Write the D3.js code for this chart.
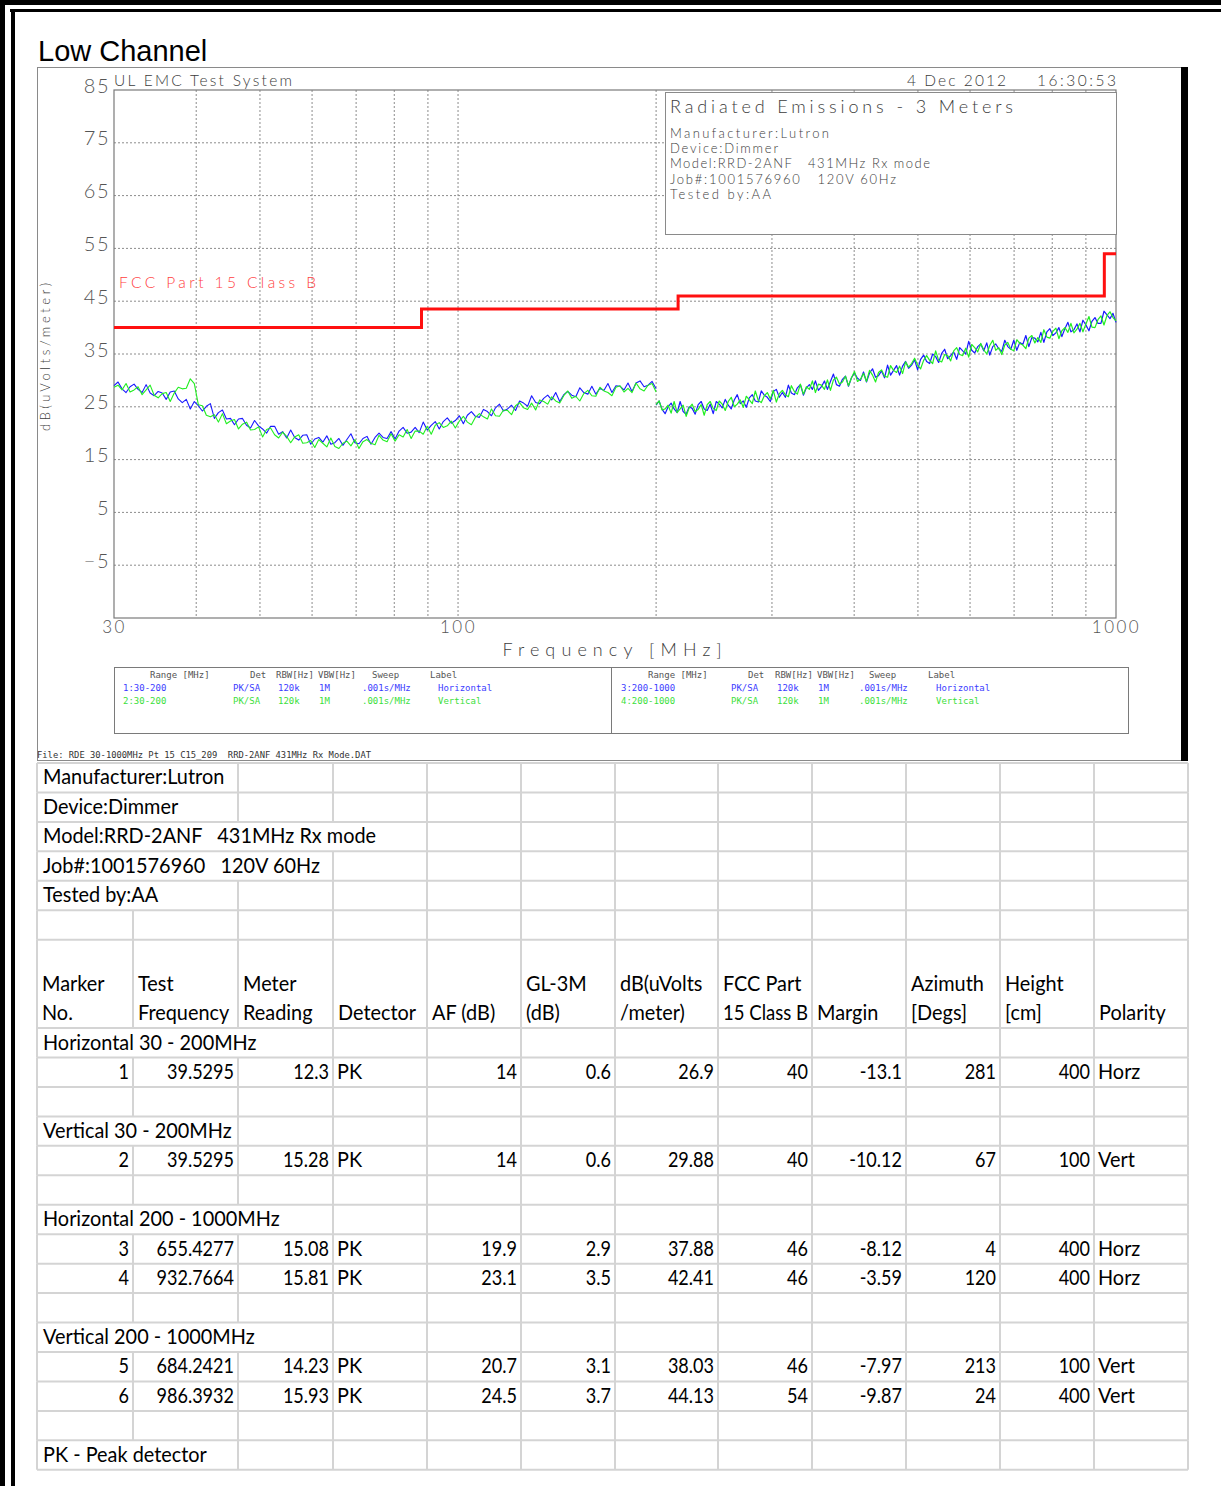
<!DOCTYPE html>
<html><head><meta charset="utf-8">
<script src="https://cdn.jsdelivr.net/npm/d3@7"></script>
<style>
html,body{margin:0;padding:0;background:#fff;}
svg{display:block;}
</style></head><body>
<svg id="page" width="1221" height="1486"></svg>
<script>
// ---- Sweep data (dBuV/m), points evenly spaced on the log-frequency axis ----
const sweepLow = [30, 200];
const sweepHigh = [200, 1000];
const horizLow = [29.0,29.7,28.4,27.7,28.8,29.3,28.3,27.7,29.2,27.6,27.1,27.9,27.6,26.4,27.8,28.0,26.5,25.8,26.4,24.6,
26.0,25.2,24.2,25.1,25.6,22.8,23.9,24.4,22.7,22.8,21.6,22.7,22.8,21.5,21.0,22.4,21.4,20.8,20.0,21.3,
21.3,19.8,20.3,19.1,20.6,19.2,18.7,19.6,19.7,17.9,18.9,19.2,18.3,19.5,17.9,18.2,19.0,17.7,18.8,19.9,
18.2,18.0,19.0,19.4,17.9,19.2,20.0,19.2,19.0,20.3,18.9,20.4,21.1,20.0,20.2,21.1,20.1,22.1,20.6,21.5,
22.2,20.8,22.2,22.9,21.9,22.4,23.3,21.8,23.4,24.1,23.2,23.0,24.5,24.1,23.3,24.8,25.5,24.2,24.6,25.3,
24.3,26.1,25.7,25.1,27.1,25.8,25.6,26.6,27.2,26.3,27.7,26.0,27.3,27.9,27.2,26.9,28.6,27.7,27.4,28.9,
27.4,28.5,28.1,29.4,27.7,29.0,28.9,28.2,29.5,27.9,29.5,29.9,28.8,29.1,29.8,28.4];
const vertLow = [28.7,29.1,28.2,29.4,27.8,28.2,28.8,27.3,28.2,29.1,27.2,26.7,27.5,27.7,26.0,27.6,28.7,28.4,28.5,30.3,
29.4,25.4,25.2,23.4,23.1,23.5,22.1,23.7,21.8,22.3,22.6,20.8,21.7,22.1,20.6,20.7,21.2,19.3,20.7,21.0,
19.7,19.1,20.2,19.4,18.2,19.3,19.7,18.1,18.2,18.6,17.3,18.8,18.1,17.4,19.1,17.5,17.1,18.1,18.5,17.6,
18.8,17.1,18.4,18.8,18.1,17.8,19.6,18.7,18.4,19.9,18.5,19.7,19.3,20.7,19.0,20.4,20.4,19.8,21.3,19.8,
21.5,22.0,21.1,21.4,22.3,21.0,22.3,23.2,22.1,21.6,23.0,23.7,23.1,22.7,24.6,23.3,23.2,24.4,24.3,23.5,
25.2,25.8,24.8,24.5,25.7,24.4,26.3,26.0,25.5,26.9,26.1,25.7,27.1,28.0,26.6,27.0,26.1,27.5,28.1,27.1,
27.0,28.7,28.0,27.7,27.1,28.7,29.0,27.8,28.5,27.7,29.5,28.4,28.0,29.1,29.4,27.8];
const horizHigh = [25.3,26.1,24.5,23.7,25.0,25.7,24.6,23.9,26.0,24.1,23.6,25.0,24.7,23.6,25.4,26.0,24.6,24.3,25.5,23.7,
26.0,25.5,24.8,26.4,25.3,24.6,26.3,27.3,25.6,26.1,24.9,26.7,27.3,26.1,25.9,28.0,27.2,26.8,26.0,27.9,
28.3,26.8,27.7,26.8,29.1,27.6,27.3,28.6,29.2,27.2,28.6,29.2,28.3,29.9,28.1,28.8,29.9,28.3,29.8,31.2,
29.2,28.9,30.2,30.8,28.9,30.5,31.4,30.4,30.0,31.6,29.7,31.4,32.2,30.6,30.9,31.8,30.5,32.9,31.0,31.9,
32.8,31.0,32.7,33.6,32.3,32.9,33.9,32.0,34.0,34.8,33.6,33.2,35.0,34.5,33.4,35.1,35.9,34.1,34.7,35.4,
34.0,36.2,35.6,35.0,37.4,35.7,35.2,36.4,36.9,35.6,37.1,34.8,36.4,36.9,36.0,35.5,37.6,36.4,35.9,37.6,
35.7,37.2,36.8,38.5,36.4,38.1,38.0,37.3,39.1,37.2,39.2,39.8,38.5,39.0,40.0,38.3,39.8,41.0,39.2,39.6,
40.7,39.2,41.4,40.5,39.4,41.2,41.9,40.8,40.8,43.1,42.4,41.7,42.7,41.0];
const vertHigh = [25.4,26.1,24.4,24.6,25.3,23.8,26.0,23.9,24.6,25.3,23.2,24.8,25.5,24.1,24.5,25.4,23.4,25.4,26.0,24.7,
24.3,26.1,25.5,24.3,26.0,26.8,25.0,25.5,26.3,24.9,27.0,26.3,25.6,28.0,26.2,25.8,27.1,27.7,26.5,28.1,
25.9,27.5,28.1,27.3,26.9,29.0,27.9,27.4,29.3,27.4,28.8,28.3,29.9,27.7,29.3,29.1,28.3,30.1,28.1,30.1,
30.6,29.3,29.7,30.8,29.0,30.5,31.7,29.8,30.2,31.3,29.8,31.9,31.0,29.7,31.5,32.0,30.8,30.6,32.8,31.9,
31.5,32.7,31.3,33.5,32.5,33.2,34.2,32.9,32.2,33.8,34.7,33.8,33.2,35.6,33.8,33.5,34.9,34.7,33.7,35.6,
36.2,34.9,34.7,36.1,34.4,36.8,36.2,35.4,37.0,35.8,35.0,36.6,37.6,35.7,36.2,34.9,36.7,37.2,35.9,35.6,
37.7,37.0,36.7,36.0,38.0,38.5,37.1,38.1,37.2,39.6,38.2,38.0,39.3,39.9,37.9,39.4,40.0,39.1,40.8,39.0,
39.7,40.8,39.2,40.7,42.1,40.1,40.0,41.5,42.2,40.5,42.3,43.0,41.9,41.3];

// FCC Part 15 Class B limit (3 m)
const limitFreqs = [30, 88, 216, 960, 1000];
const limitLevels = [40, 43.5, 46, 54, 54];

const yTicks = [85, 75, 65, 55, 45, 35, 25, 15, 5, -5];
const xTickValues = [30, 100, 1000];
const gridFreqs = [40, 50, 60, 70, 80, 90, 100, 200, 300, 400, 500, 600, 700, 800, 900];

const headerLeft = "UL EMC Test System";
const headerDate = "4 Dec 2012";
const headerTime = "16:30:53";
const infoTitle = "Radiated Emissions - 3 Meters";
const infoLines = ["Manufacturer:Lutron", "Device:Dimmer", "Model:RRD-2ANF   431MHz Rx mode", "Job#:1001576960   120V 60Hz", "Tested by:AA"];

const legendCols = ["Range [MHz]", "Det", "RBW[Hz]", "VBW[Hz]", "Sweep", "Label"];
const legendRowsLeft = [["1:30-200", "PK/SA", "120k", "1M", ".001s/MHz", "Horizontal"], ["2:30-200", "PK/SA", "120k", "1M", ".001s/MHz", "Vertical"]];
const legendRowsRight = [["3:200-1000", "PK/SA", "120k", "1M", ".001s/MHz", "Horizontal"], ["4:200-1000", "PK/SA", "120k", "1M", ".001s/MHz", "Vertical"]];
const fileName = "File: RDE 30-1000MHz Pt 15 C15_209  RRD-2ANF 431MHz Rx Mode.DAT";

// ---- Marker table ----
const tableHeader = [["Marker", "No."], ["Test", "Frequency"], ["Meter", "Reading"], ["", "Detector"], ["", "AF (dB)"], ["GL-3M", "(dB)"], ["dB(uVolts", "/meter)"], ["FCC Part", "15 Class B"], ["", "Margin"], ["Azimuth", "[Degs]"], ["Height", "[cm]"], ["", "Polarity"]];
const markerNo = [1, 2, 3, 4, 5, 6];
const testFreq = ["39.5295", "39.5295", "655.4277", "932.7664", "684.2421", "986.3932"];
const meterReading = [12.3, 15.28, 15.08, 15.81, 14.23, 15.93];
const detector = ["PK", "PK", "PK", "PK", "PK", "PK"];
const afDb = [14, 14, 19.9, 23.1, 20.7, 24.5];
const gl3m = [0.6, 0.6, 2.9, 3.5, 3.1, 3.7];
const fieldStrength = [26.9, 29.88, 37.88, 42.41, 38.03, 44.13];
const fccLimit = [40, 40, 46, 46, 46, 54];
const marginDb = [-13.1, -10.12, -8.12, -3.59, -7.97, -9.87];
const azimuth = [281, 67, 4, 120, 213, 24];
const heightCm = [400, 100, 400, 400, 100, 400];
const polarity = ["Horz", "Vert", "Horz", "Horz", "Vert", "Vert"];
const groupTitles = ["Horizontal 30 - 200MHz", "Vertical 30 - 200MHz", "Horizontal 200 - 1000MHz", "Vertical 200 - 1000MHz"];
const noteText = "PK - Peak detector";

// ================= drawing =================
const svg = d3.select("#page");
const plotFont = "Lato, 'DejaVu Sans', sans-serif";
const plotWeight = 300;
const textGray = "#3c3c3c";

function plotText(sel, xp, yp, str, size, len, color, anchor) {
  const t = sel.append("text").attr("x", xp).attr("y", yp).text(str)
    .attr("font-family", plotFont).attr("font-weight", plotWeight).attr("font-size", size)
    .attr("fill", color || textGray).attr("text-anchor", anchor || "start").style("white-space", "pre");
  if (len) t.attr("textLength", len).attr("lengthAdjust", "spacing");
  return t;
}

// page frame
svg.append("rect").attr("x", 0).attr("y", 0).attr("width", 1221).attr("height", 5).attr("fill", "#000");
svg.append("rect").attr("x", 0).attr("y", 0).attr("width", 5).attr("height", 1486).attr("fill", "#000");
svg.append("rect").attr("x", 10).attr("y", 9).attr("width", 1211).attr("height", 3).attr("fill", "#000");
svg.append("rect").attr("x", 11).attr("y", 9).attr("width", 4).attr("height", 1477).attr("fill", "#000");

svg.append("text").attr("x", 38).attr("y", 61).text("Low Channel")
  .attr("font-family", "'Liberation Sans', Arial, sans-serif").attr("font-size", 29).attr("fill", "#000");

// chart panel
svg.append("rect").attr("x", 37.5).attr("y", 67.5).attr("width", 1144).attr("height", 693)
  .attr("fill", "#fff").attr("stroke", "#8a8a8a").attr("stroke-width", 1);
svg.append("rect").attr("x", 1181).attr("y", 67).attr("width", 7).attr("height", 694).attr("fill", "#000");

const x = d3.scaleLog().domain([30, 1000]).range([114, 1116]);
const y = d3.scaleLinear().domain([-15, 85]).range([618, 90]);

const plot = svg.append("g");

// grid
plot.selectAll("line.vg").data(gridFreqs).join("line")
  .attr("x1", d => x(d)).attr("x2", d => x(d)).attr("y1", y(85)).attr("y2", y(-15))
  .attr("stroke", "#8c8c8c").attr("stroke-width", 1).attr("stroke-dasharray", "2,2");
plot.selectAll("line.hg").data(yTicks.filter(d => d !== 85)).join("line")
  .attr("x1", x(30)).attr("x2", x(1000)).attr("y1", d => y(d)).attr("y2", d => y(d))
  .attr("stroke", "#8c8c8c").attr("stroke-width", 1).attr("stroke-dasharray", "2,2");

// frame
plot.append("rect").attr("x", x(30)).attr("y", y(85)).attr("width", x(1000) - x(30)).attr("height", y(-15) - y(85))
  .attr("fill", "none").attr("stroke", "#7a7a7a").attr("stroke-width", 1.2);

// info box
plot.append("rect").attr("x", 665.5).attr("y", 92.5).attr("width", 451).attr("height", 142)
  .attr("fill", "#fff").attr("stroke", "#8a8a8a").attr("stroke-width", 1);
plotText(plot, 670, 113, infoTitle, 18, 343);
const infoWidths = [159, 108, 260, 226, 101];
infoLines.forEach((t, i) => plotText(plot, 670, 138 + i * 15.2, t, 13, infoWidths[i]));

// header texts
plotText(plot, 114, 86, headerLeft, 15.5, 178);
plotText(plot, 907, 86, headerDate, 15.5, 99);
plotText(plot, 1037, 86, headerTime, 15.5, 79);

// y axis
const yAxis = d3.axisLeft(y).tickValues(yTicks).tickSize(0).tickPadding(4).tickFormat(d => d < 0 ? "\u2212" + Math.abs(d) : String(d));
const gy = plot.append("g").attr("transform", `translate(${x(30)},0)`).call(yAxis);
gy.select(".domain").remove();
gy.selectAll("text").attr("font-family", plotFont).attr("font-weight", plotWeight).attr("font-size", 20)
  .attr("fill", "#555").attr("dy", "0.1em").attr("letter-spacing", "1.5px");

// x axis
const xAxis = d3.axisBottom(x).tickValues(xTickValues).tickSize(0).tickPadding(3).tickFormat(d => String(d));
const gx = plot.append("g").attr("transform", `translate(0,${y(-15)})`).call(xAxis);
gx.select(".domain").remove();
gx.selectAll("text").attr("font-family", plotFont).attr("font-weight", plotWeight).attr("font-size", 17)
  .attr("fill", "#555").attr("letter-spacing", "2.5px");

plotText(plot, 612, 656, "Frequency [MHz]", 18, 219, textGray, "middle");
plot.append("text").attr("transform", "translate(50,357) rotate(-90)").attr("text-anchor", "middle")
  .text("dB(uVolts/meter)").attr("font-family", plotFont).attr("font-weight", plotWeight)
  .attr("font-size", 13).attr("fill", textGray)
  .attr("textLength", 148).attr("lengthAdjust", "spacing");

// traces
function sweepPoints(range, values) {
  const lx = d3.scaleLinear().domain([0, values.length - 1]).range([Math.log10(range[0]), Math.log10(range[1])]);
  return values.map((v, i) => [Math.pow(10, lx(i)), v]);
}
const line = d3.line().x(d => x(d[0])).y(d => y(d[1]));
const traces = [
  { range: sweepLow, values: horizLow, color: "#1a1aff", w: 1.1 },
  { range: sweepLow, values: vertLow, color: "#22ee22", w: 1.1 },
  { range: sweepHigh, values: horizHigh, color: "#1a1aff", w: 1.2 },
  { range: sweepHigh, values: vertHigh, color: "#22ee22", w: 1.2 }
];
traces.forEach(t => {
  plot.append("path").attr("d", line(sweepPoints(t.range, t.values)))
    .attr("fill", "none").attr("stroke", t.color).attr("stroke-width", t.w).attr("stroke-linejoin", "round");
});

// limit line
const limitLine = d3.line().x(d => x(d[0])).y(d => y(d[1])).curve(d3.curveStepAfter);
plot.append("path").attr("d", limitLine(limitFreqs.map((f, i) => [f, limitLevels[i]])))
  .attr("fill", "none").attr("stroke", "#ff1010").attr("stroke-width", 3);
plotText(plot, 119, 288, "FCC Part 15 Class B", 15.5, 197, "#ff4040");

// legend boxes
const legFont = "'DejaVu Sans Mono', monospace";
function legendBox(x0, x1, colX, rows) {
  plot.append("rect").attr("x", x0 + 0.5).attr("y", 667.5).attr("width", x1 - x0).attr("height", 66)
    .attr("fill", "#fff").attr("stroke", "#7a7a7a").attr("stroke-width", 1);
  legendCols.forEach((c, i) => {
    plot.append("text").attr("x", colX[i]).attr("y", 678).text(c)
      .attr("font-family", legFont).attr("font-size", 9).attr("fill", "#555");
  });
  const rowX = [colX[0] - 27, colX[1] - 17, colX[2] + 2, colX[3] + 1, colX[4] - 10, colX[5] + 8];
  rows.forEach((r, ri) => {
    r.forEach((c, i) => {
      plot.append("text").attr("x", rowX[i]).attr("y", 691 + ri * 12.5).text(c)
        .attr("font-family", legFont).attr("font-size", 9).attr("fill", ri === 0 ? "#3c3cff" : "#3ce03c");
    });
  });
}
legendBox(114, 611, [150, 250, 276, 318, 372, 430], legendRowsLeft);
legendBox(611, 1128, [648, 748, 775, 817, 869, 928], legendRowsRight);

plot.append("text").attr("x", 37).attr("y", 758).text(fileName)
  .attr("font-family", legFont).attr("font-size", 9).attr("fill", "#333")
  .attr("textLength", 334).attr("lengthAdjust", "spacingAndGlyphs").style("white-space", "pre");

// ================= marker table =================
const colX = [37, 133, 238, 333, 427, 521, 615, 718, 812, 906, 1000, 1094, 1188];
const rowH = 29.45;
const tableTop = 763;
const tFont = "Lato, 'Open Sans', sans-serif";
const tSize = 20.5;

const rows = [];
infoLines.forEach(t => rows.push({ type: "text", text: t, units: 1 }));
rows.push({ type: "blank", units: 1 });
rows.push({ type: "header", units: 3 });
const groupRows = [[0], [1], [2, 3], [4, 5]];
groupTitles.forEach((g, gi) => {
  rows.push({ type: "text", text: g, units: 1 });
  groupRows[gi].forEach(k => rows.push({ type: "data", idx: k, units: 1 }));
  rows.push({ type: "blank", units: 1 });
});
rows.push({ type: "text", text: noteText, units: 1 });

const table = svg.append("g");
const gridColor = "#d4d4d4";
let yCursor = tableTop;
const rowGeom = rows.map(r => { const g = { top: yCursor, bottom: yCursor + r.units * rowH }; yCursor = g.bottom; return g; });

// horizontal lines
const hLines = [tableTop].concat(rowGeom.map(g => g.bottom));
table.selectAll("line.h").data(hLines).join("line")
  .attr("x1", colX[0]).attr("x2", colX[colX.length - 1]).attr("y1", d => d).attr("y2", d => d)
  .attr("stroke", gridColor).attr("stroke-width", 2);

// digits in this face run wider than the sheet font, so numeric cells are narrowed slightly;
// text that would spill into a filled neighbour is fitted to its own cell
const cellText = (xp, yp, t, anchor, narrow, maxW) => {
  const sx = narrow ? 0.88 : 0.97;
  const el = table.append("text")
    .attr("transform", `translate(${xp},${yp}) scale(${sx},1)`).text(t)
    .attr("font-family", tFont).attr("font-size", tSize).attr("fill", "#000").attr("text-anchor", anchor || "start")
    .style("white-space", "pre");
  if (maxW) {
    const w = el.node().getComputedTextLength() * sx;
    if (w > maxW) el.attr("textLength", maxW / sx).attr("lengthAdjust", "spacingAndGlyphs");
  }
  return el;
};

rows.forEach((r, ri) => {
  const g = rowGeom[ri];
  let covered = 0;
  if (r.type === "text") {
    const t = cellText(colX[0] + 6, g.bottom - 8, r.text);
    covered = colX[0] + 6 + t.node().getComputedTextLength() * 0.97;
  } else if (r.type === "header") {
    tableHeader.forEach((h, ci) => {
      const maxW = colX[ci + 1] - colX[ci] - 9;
      if (h[0]) cellText(colX[ci] + 5, g.bottom - 37.5, h[0], "start", false, maxW);
      cellText(colX[ci] + 5, g.bottom - 8, h[1], "start", false, maxW);
    });
  } else if (r.type === "data") {
    const k = r.idx;
    [markerNo[k], testFreq[k], meterReading[k]].forEach((v, ci) => cellText(colX[ci + 1] - 4, g.bottom - 8, String(v), "end", true));
    cellText(colX[3] + 4, g.bottom - 8, detector[k]);
    [afDb[k], gl3m[k], fieldStrength[k], fccLimit[k], marginDb[k], azimuth[k], heightCm[k]]
      .forEach((v, ci) => cellText(colX[ci + 5] - 4, g.bottom - 8, String(v), "end", true));
    cellText(colX[11] + 4, g.bottom - 8, polarity[k]);
  }
  // vertical separators (text overflowing into empty cells hides them)
  colX.forEach((cx, ci) => {
    if (ci > 0 && ci < colX.length - 1 && cx < covered + 2) return;
    table.append("line").attr("x1", cx).attr("x2", cx).attr("y1", g.top).attr("y2", g.bottom)
      .attr("stroke", gridColor).attr("stroke-width", 2);
  });
});
</script>
</body></html>
